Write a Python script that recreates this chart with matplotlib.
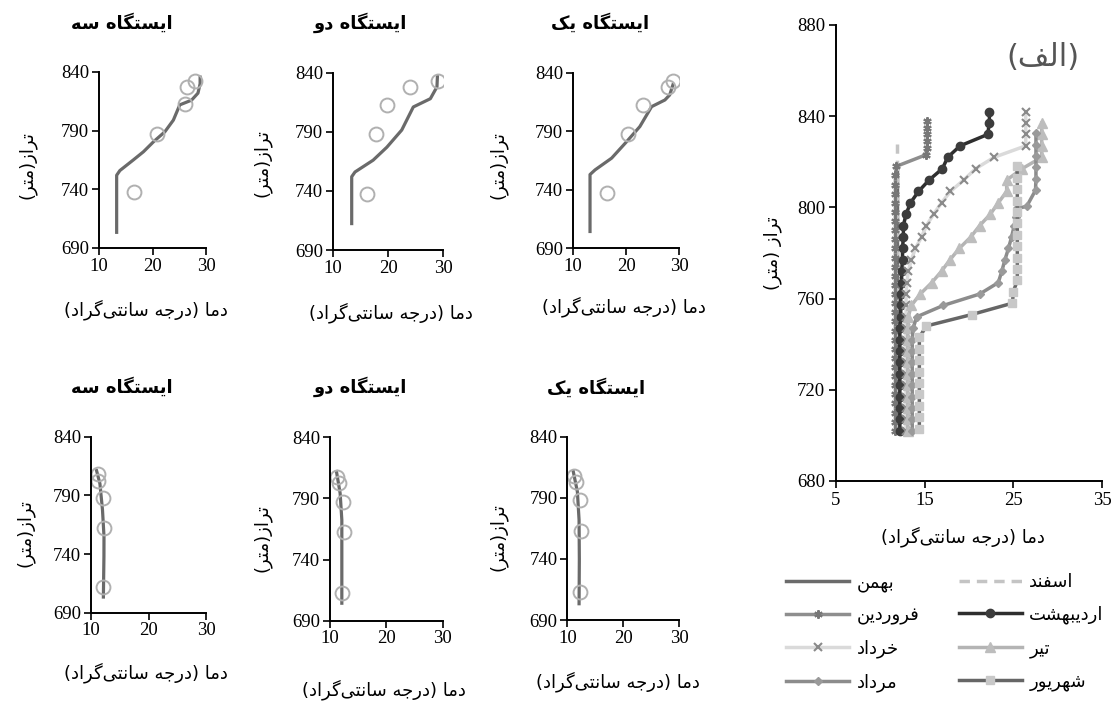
import matplotlib
matplotlib.use("Agg")
import matplotlib.pyplot as plt
from matplotlib.lines import Line2D
from matplotlib import font_manager, ft2font

W, H = 1113, 702
plt.rcParams['font.family'] = ['DejaVu Sans']

# ---------------- Arabic/Persian shaping (no shaping engine in matplotlib) -------------
FORMS = {
    'ا': ('\uFE8D', '\uFE8E', None, None),
    'ب': ('\uFE8F', '\uFE90', '\uFE91', '\uFE92'),
    'ت': ('\uFE95', '\uFE96', '\uFE97', '\uFE98'),
    'ج': ('\uFE9D', '\uFE9E', '\uFE9F', '\uFEA0'),
    'خ': ('\uFEA5', '\uFEA6', '\uFEA7', '\uFEA8'),
    'د': ('\uFEA9', '\uFEAA', None, None),
    'ر': ('\uFEAD', '\uFEAE', None, None),
    'ز': ('\uFEAF', '\uFEB0', None, None),
    'س': ('\uFEB1', '\uFEB2', '\uFEB3', '\uFEB4'),
    'ش': ('\uFEB5', '\uFEB6', '\uFEB7', '\uFEB8'),
    'ف': ('\uFED1', '\uFED2', '\uFED3', '\uFED4'),
    'ل': ('\uFEDD', '\uFEDE', '\uFEDF', '\uFEE0'),
    'م': ('\uFEE1', '\uFEE2', '\uFEE3', '\uFEE4'),
    'ن': ('\uFEE5', '\uFEE6', '\uFEE7', '\uFEE8'),
    'ه': ('\uFEE9', '\uFEEA', '\uFEEB', '\uFEEC'),
    'و': ('\uFEED', '\uFEEE', None, None),
    'ی': ('\uFBFC', '\uFBFD', '\uFBFE', '\uFBFF'),
    'ک': ('\uFB8E', '\uFB8F', '\uFB90', '\uFB91'),
    'گ': ('\uFB92', '\uFB93', '\uFB94', '\uFB95'),
}
try:
    _f = ft2font.FT2Font(font_manager.findfont('DejaVu Sans'))
    if _f.get_char_index(0xFBFC) == 0:
        FORMS['ی'] = ('\uFEEF', '\uFEF0', '\uFEF3', '\uFEF4')
    if _f.get_char_index(0xFB8E) == 0:
        FORMS['ک'] = ('\uFED9', '\uFEDA', '\uFEDB', '\uFEDC')
except Exception:
    pass


def fa(s):
    ch = list(s)
    out = []
    for i, c in enumerate(ch):
        if c not in FORMS:
            out.append(c)
            continue
        p = ch[i - 1] if i > 0 else None
        n = ch[i + 1] if i + 1 < len(ch) else None
        jp = p in FORMS and FORMS[p][2] is not None
        jn = n in FORMS and FORMS[c][2] is not None
        iso, fin, ini, med = FORMS[c]
        out.append(med if (jp and jn) else fin if jp else ini if jn else iso)
    out = [c for c in out if c != '\u200c']
    vis = ''.join(reversed(out))
    return vis.translate(str.maketrans('()', ')('))


# ---------------- data ----------------
station_titles = ['ایستگاه سه', 'ایستگاه دو', 'ایستگاه یک']
x_label = 'دما (درجه سانتی\u200cگراد)'
y_label_small = 'تراز(متر)'
y_label_big = 'تراز (متر)'
panel_tag = '(الف)'

# top row: simulated profile (line) and measurements (circles)
top_line_T = [
    [13.3, 13.3, 13.9, 16.4, 18.3, 20.2, 22.3, 23.9, 25.1, 27.3, 28.5, 28.9, 28.9],
    [13.4, 13.4, 14.0, 17.3, 19.8, 22.5, 24.6, 27.7, 28.9, 29.0],
    [13.25, 13.25, 14.2, 17.3, 20.1, 22.6, 24.8, 27.3, 28.2, 28.9],
]
top_line_Z = [
    [702, 752, 756, 765, 772, 780.6, 789, 799, 812, 816, 822, 830, 837],
    [711, 752, 756, 766, 777, 791.5, 811, 818, 828, 838],
    [703, 753, 757, 767, 781, 794, 811, 816.7, 821, 831],
]
top_obs_T = [
    [16.6, 20.8, 26.1, 26.5, 27.9],
    [16.1, 17.9, 19.9, 24.0, 29.1],
    [16.4, 20.3, 23.1, 27.9, 28.75],
]
top_obs_Z = [
    [737.5, 787, 812.5, 827.5, 832.6],
    [737.4, 788, 812.7, 827.6, 833],
    [737.5, 787.7, 812.5, 828, 832.9],
]
# bottom row
bot_line_T = [
    [12.15, 12.25, 12.26, 12.0, 11.55, 10.9],
    [12.1, 12.1, 12.1, 11.8, 11.1],
    [12.1, 12.15, 12.1, 11.8, 11.0],
]
bot_line_Z = [
    [702, 738, 755, 777.5, 800, 812.4],
    [703, 742.6, 772.4, 794.2, 813.3],
    [702, 740, 772, 795, 813],
]
bot_obs_T = [
    [12.15, 12.3, 12.15, 11.3, 11.3],
    [12.1, 12.4, 12.3, 11.6, 11.2],
    [12.2, 12.5, 12.2, 11.6, 11.2],
]
bot_obs_Z = [
    [712.3, 762.5, 787.5, 802.2, 807.9],
    [712.9, 762.8, 787.3, 802.3, 807.3],
    [713, 763, 788, 803, 808],
]

# big panel: monthly temperature profiles
months = ['بهمن', 'فروردین', 'خرداد', 'مرداد', 'اسفند', 'اردیبهشت', 'تیر', 'شهریور']

bahman_T = [11.9, 11.9]
bahman_Z = [702, 816]
esfand_T = [11.85, 11.85]
esfand_Z = [702, 828]
farvardin_Z = [702, 706, 710, 714, 718, 722, 726, 730, 734, 738, 742, 746, 750, 754, 758,
               762, 766, 770, 774, 778, 782, 786, 790, 794, 798, 802, 806, 810, 814, 818,
               823, 826, 829, 832, 835, 838]
farvardin_T = [11.7, 11.7, 11.7, 11.7, 11.7, 11.7, 11.7, 11.7, 11.7, 11.7, 11.7, 11.7, 11.7,
               11.7, 11.7, 11.7, 11.7, 11.7, 11.7, 11.7, 11.7, 11.7, 11.7, 11.7, 11.7, 11.7,
               11.7, 11.7, 11.7, 11.8, 15.1, 15.3, 15.3, 15.3, 15.3, 15.3]
ordibehesht_Z = [702, 707, 712, 717, 722, 727, 732, 737, 742, 747, 752, 757, 762, 767, 772,
                 777, 782, 787, 792, 797, 802, 807, 812, 817, 822, 827, 832, 837, 842]
ordibehesht_T = [12.2, 12.2, 12.2, 12.2, 12.2, 12.2, 12.2, 12.2, 12.2, 12.2, 12.3, 12.3, 12.3,
                 12.4, 12.4, 12.5, 12.5, 12.6, 12.6, 12.9, 13.4, 14.3, 15.5, 17.0, 17.6, 19.0,
                 22.1, 22.3, 22.3]
khordad_Z = [702, 707, 712, 717, 722, 727, 732, 737, 742, 747, 752, 757, 762, 767, 772,
             777, 782, 787, 792, 797, 802, 807, 812, 817, 822, 827, 832, 837, 842]
khordad_T = [12.9, 12.9, 12.9, 12.9, 12.9, 12.9, 12.9, 12.9, 12.9, 12.9, 12.9, 12.9, 12.9,
             13.0, 13.15, 13.5, 13.95, 14.65, 15.2, 16.0, 16.9, 17.9, 19.4, 20.75, 22.85,
             26.4, 26.4, 26.4, 26.4]
tir_Z = [702, 707, 712, 717, 722, 727, 732, 737, 742, 747, 752, 757, 762, 767, 772, 777,
         782, 787, 792, 797, 802, 807, 812, 817, 822, 827, 832, 837]
tir_T = [13.1, 13.1, 13.1, 13.1, 13.1, 13.1, 13.1, 13.1, 13.1, 13.1, 13.15, 13.5, 14.5, 15.8,
         16.9, 17.85, 18.9, 20.2, 21.2, 22.4, 23.3, 24.25, 24.25, 26.0, 28.2, 28.2, 28.2, 28.2]
mordad_Z = [702, 707, 712, 717, 722, 727, 732, 737, 742, 747, 752, 757, 762, 767, 772, 777,
            782, 787, 792, 796, 799.6, 800.4, 807.5, 812.5, 817.5, 822.5, 827.5, 832.5]
mordad_T = [13.6, 13.6, 13.6, 13.6, 13.6, 13.6, 13.6, 13.6, 13.6, 13.7, 14.1, 17.1, 21.2, 23.3,
            23.7, 24.05, 24.45, 24.8, 25.1, 25.3, 25.4, 26.5, 27.5, 27.55, 27.55, 27.55, 27.55,
            27.55]
shahrivar_Z = [703, 708, 713, 718, 723, 728, 733, 738, 743, 748, 753, 758, 763, 768, 773, 778,
               783, 788, 793, 798, 803, 808, 813, 818]
shahrivar_T = [14.4, 14.4, 14.4, 14.4, 14.4, 14.4, 14.4, 14.4, 14.4, 15.2, 20.3, 24.9, 25.0,
               25.45, 25.45, 25.45, 25.45, 25.45, 25.45, 25.45, 25.45, 25.45, 25.45, 25.4]

# ---------------- figure ----------------
fig = plt.figure(figsize=(W / 100, H / 100), dpi=100)
SERIF = 'Liberation Serif'
FA = 'DejaVu Sans'
FS = 13


def rect(x0, x1, ytop, ybot):
    return [x0 / W, 1 - ybot / H, (x1 - x0) / W, (ybot - ytop) / H]


def style_small(ax):
    ax.set_xlim(10, 30)
    ax.set_ylim(690, 840)
    ax.set_xticks([10, 20, 30])
    ax.set_yticks([690, 740, 790, 840])
    for s in ['top', 'right']:
        ax.spines[s].set_visible(False)
    for s in ['left', 'bottom']:
        ax.spines[s].set_linewidth(1.4)
    ax.tick_params(direction='out', length=5, width=1.2, labelsize=13.5, pad=2)
    for lab in ax.get_xticklabels() + ax.get_yticklabels():
        lab.set_fontfamily(SERIF)
    ax.patch.set_alpha(0)


top_rects = [rect(99, 206, 72, 248), rect(333, 443, 72.7, 250), rect(572.7, 679.3, 72.7, 248.3)]
bot_rects = [rect(91, 206, 436.7, 612.7), rect(330, 442.7, 437.3, 620.7), rect(567.3, 679.3, 436.7, 620)]
top_title_pos = [(122, 23), (360, 23), (600, 23)]
bot_title_pos = [(122, 387), (360, 387), (596, 388)]
top_ylab_pos = [(27, 165), (262, 163), (498, 165)]
bot_ylab_pos = [(25, 533), (262, 538), (498, 537)]
top_xlab_pos = [(146, 310), (391, 313), (624, 307)]
bot_xlab_pos = [(146, 673), (384, 690), (618, 682)]

LINE_C = '#6a6a6a'
CIRC_C = '#b0b0b0'

for i in range(3):
    ax = fig.add_axes(top_rects[i])
    ax.plot(top_line_T[i], top_line_Z[i], color=LINE_C, lw=2.3, solid_capstyle='butt')
    ax.plot(top_obs_T[i], top_obs_Z[i], ls='none', marker='o', ms=10, mfc='none',
            mec=CIRC_C, mew=1.4)
    style_small(ax)
    ax = fig.add_axes(bot_rects[i])
    ax.plot(bot_line_T[i], bot_line_Z[i], color=LINE_C, lw=2.3, solid_capstyle='butt')
    ax.plot(bot_obs_T[i], bot_obs_Z[i], ls='none', marker='o', ms=10, mfc='none',
            mec=CIRC_C, mew=1.4)
    style_small(ax)

for pos_list, texts in [(top_title_pos, station_titles), (bot_title_pos, station_titles)]:
    for (x, y), t in zip(pos_list, texts):
        fig.text(x / W, 1 - y / H, fa(t), ha='center', va='center', fontsize=13,
                 fontweight='bold', family=FA)
for (x, y) in top_ylab_pos + bot_ylab_pos:
    fig.text(x / W, 1 - y / H, fa(y_label_small), ha='center', va='center', rotation=90,
             fontsize=FS, family=FA)
for (x, y) in top_xlab_pos + bot_xlab_pos:
    fig.text(x / W, 1 - y / H, fa(x_label), ha='center', va='center', fontsize=FS, family=FA)

# ---------------- big panel ----------------
axb = fig.add_axes(rect(836, 1102, 25, 481))
series = {
    'بهمن': dict(T=bahman_T, Z=bahman_Z, color='#6b6b6b', marker=None, mc=None, ls='-', ms=0),
    'اسفند': dict(T=esfand_T, Z=esfand_Z, color='#c4c4c4', marker=None, mc=None, ls=(0, (3, 2)), ms=0),
    'فروردین': dict(T=farvardin_T, Z=farvardin_Z, color='#8e8e8e', marker=(6, 2, 0), mc='#777777', ls='-', ms=6),
    'اردیبهشت': dict(T=ordibehesht_T, Z=ordibehesht_Z, color='#2e2e2e', marker='o', mc='#3c3c3c', ls='-', ms=6),
    'خرداد': dict(T=khordad_T, Z=khordad_Z, color='#dadada', marker='x', mc='#8a8a8a', ls='-', ms=6),
    'تیر': dict(T=tir_T, Z=tir_Z, color='#b4b4b4', marker='^', mc='#bdbdbd', ls='-', ms=6.5),
    'مرداد': dict(T=mordad_T, Z=mordad_Z, color='#8c8c8c', marker='D', mc='#9a9a9a', ls='-', ms=4.5),
    'شهریور': dict(T=shahrivar_T, Z=shahrivar_Z, color='#666666', marker='s', mc='#c8c8c8', ls='-', ms=6),
}
draw_order = ['بهمن', 'اسفند', 'فروردین', 'اردیبهشت', 'خرداد', 'تیر', 'مرداد', 'شهریور']
handles = {}
for name in draw_order:
    s = series[name]
    kw = dict(color=s['color'], lw=2.5, ls=s['ls'])
    if s['marker'] is not None:
        kw.update(marker=s['marker'], ms=s['ms'], mfc=s['mc'], mec=s['mc'],
                  mew=1.5 if s['marker'] in ('x',) or isinstance(s['marker'], tuple) else 1.0)
    axb.plot(s['T'], s['Z'], **kw)
    lkw = dict(kw)
    if 'marker' in lkw:
        lkw['markevery'] = [1]
    handles[name] = Line2D([0, 1, 2], [0, 0, 0], **lkw)

axb.set_xlim(5, 35)
axb.set_ylim(680, 880)
axb.set_xticks([5, 15, 25, 35])
axb.set_yticks([680, 720, 760, 800, 840, 880])
for s in ['top', 'right']:
    axb.spines[s].set_visible(False)
for s in ['left', 'bottom']:
    axb.spines[s].set_linewidth(1.4)
axb.tick_params(direction='out', length=5, width=1.2, labelsize=13.5, pad=3)
for lab in axb.get_xticklabels() + axb.get_yticklabels():
    lab.set_fontfamily(SERIF)
axb.patch.set_alpha(0)

fig.text(773 / W, 1 - 253 / H, fa(y_label_big), ha='center', va='center', rotation=90,
         fontsize=FS, family=FA)
fig.text(963 / W, 1 - 537 / H, fa(x_label), ha='center', va='center', fontsize=FS, family=FA)
fig.text(1043 / W, 1 - 58 / H, fa(panel_tag), ha='center', va='center', fontsize=22,
         color='#555555', family=FA)

leg = fig.legend([handles[m] for m in months], [fa(m) for m in months], ncol=2,
                 loc='upper left', bbox_to_anchor=(786 / W, 1 - 573 / H), frameon=False,
                 fontsize=13, handlelength=3.5, handletextpad=0.4, columnspacing=2.2,
                 labelspacing=0.82, borderpad=0, borderaxespad=0)
for t in leg.get_texts():
    t.set_family(FA)

fig.savefig('out.png', dpi=100)
